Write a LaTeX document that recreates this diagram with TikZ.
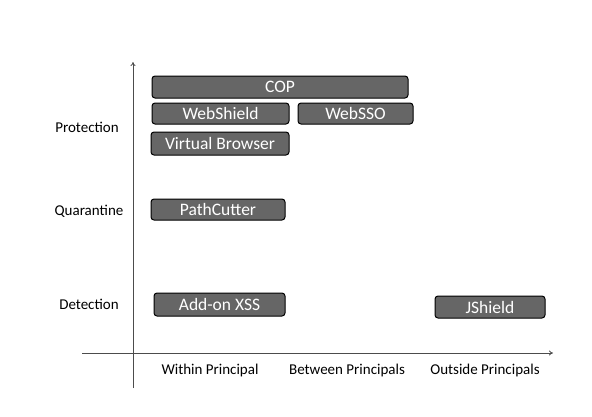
\documentclass[tikz,border=0pt]{standalone}
\usepackage{fontspec}
\setmainfont{Carlito}
\usetikzlibrary{arrows.meta}
\begin{document}
\begin{tikzpicture}[x=1pt,y=-1pt,
  tool/.style={draw=black, line width=1pt, fill=black!60, rounded corners=3pt,
    text=white, font=\fontsize{17.5}{19}\selectfont, inner sep=0pt},
  axlabel/.style={font=\fontsize{15}{17}\selectfont, text=black},
  axis/.style={draw=black!70, line width=0.8pt, -{To[length=4pt,width=5pt]}}]
\useasboundingbox (0,0) rectangle (592,416);
% axes
\coordinate (vbot) at (133,388);
\coordinate (vtop) at (133,62);
\coordinate (hl) at (82,353);
\coordinate (hr) at (553,353);
\draw[axis] (vbot) -- (vtop);
\draw[axis] (hl) -- (hr);
% boxes
\node[tool, minimum width=256pt, minimum height=22pt] (cop) at (280,87) {COP};
\node[tool, minimum width=137pt, minimum height=21pt] (ws) at (220.5,113.5) {WebShield};
\node[tool, minimum width=115pt, minimum height=21pt] (sso) at (355.5,113.5) {WebSSO};
\node[tool, minimum width=138pt, minimum height=23pt] (vb) at (220,143.5) {Virtual Browser};
\node[tool, minimum width=134pt, minimum height=21pt] (pc) at (218,209.5) {PathCutter};
\node[tool, minimum width=131pt, minimum height=23pt] (xss) at (219.5,304.5) {Add-on XSS};
\node[tool, minimum width=110pt, minimum height=22pt] (js) at (490,307) {JShield};
% labels
\node[axlabel] (prot) at (87,127) {Protection};
\node[axlabel] (quar) at (89,211) {Quarantine};
\node[axlabel] (det) at (89,304) {Detection};
\node[axlabel] (wp) at (210,370) {Within Principal};
\node[axlabel] (bp) at (347,370) {Between Principals};
\node[axlabel] (op) at (485,370) {Outside Principals};
\end{tikzpicture}
\end{document}
